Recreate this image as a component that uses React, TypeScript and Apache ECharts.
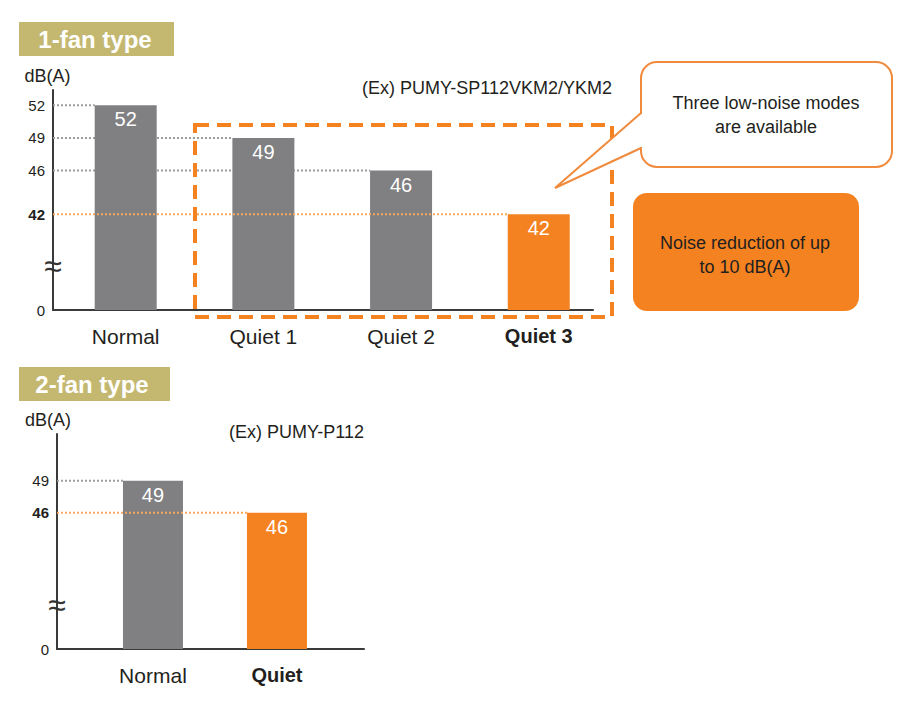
import React, { useEffect, useRef } from 'react';
import * as echarts from 'echarts';

// ---- data ----
const fan1Categories = ['Normal', 'Quiet 1', 'Quiet 2', 'Quiet 3'];
const fan1Values = [52, 49, 46, 42];
const fan1HighlightIndex = 3;
const fan1TickValues = [42, 46, 49, 52];

const fan2Categories = ['Normal', 'Quiet'];
const fan2Values = [49, 46];
const fan2HighlightIndex = 1;
const fan2TickValues = [46, 49];

// broken axis: bottom of the axis is labelled 0
const AXIS_MIN = 33.2;
const AXIS_MAX = 53.4;

const ORANGE = '#f58220';
const ORANGE_LIGHT = '#f9a75a';
const GRAY = '#808083';
const GRAY_LINE = '#9d9d9f';
const TEXT = '#231f20';
const OLIVE = '#c4b870';
const FONT = '"Liberation Sans", Arial, sans-serif';
const BAR_W = 62;

function buildChart(
  idx: number,
  cats: string[],
  vals: number[],
  hi: number,
  ticks: number[],
  xMin: number,
  xMax: number,
  barW: number,
  namePad: number
) {
  const barData = vals.map((v, i) => ({
    value: [i, v],
    itemStyle: { color: i === hi ? ORANGE : GRAY },
  }));
  const grayLines = vals.map((v, i) => [i, v]).filter((_, i) => i !== hi);
  const orangeLines = vals.map((v, i) => [i, v]).filter((_, i) => i === hi);
  const hiVal = vals[hi];
  const lineRender = (color: string) => (params: any, api: any) => {
    const p = api.coord([api.value(0), api.value(1)]);
    return {
      type: 'line',
      shape: { x1: params.coordSys.x, y1: p[1], x2: p[0] - barW / 2, y2: p[1] },
      style: { stroke: color, lineWidth: 2, lineDash: [2, 2] },
    };
  };
  const xAxis = {
    type: 'value',
    gridIndex: idx,
    min: xMin,
    max: xMax,
    splitLine: { show: false },
    axisTick: { show: false },
    axisLine: { show: true, onZero: false, lineStyle: { color: '#3a3a3a', width: 2 } },
    axisLabel: {
      customValues: cats.map((_, i) => i),
      margin: 16,
      fontSize: 21,
      color: TEXT,
      formatter: (v: number) => {
        const i = Math.round(v);
        return i === hi ? `{b|${cats[i]}}` : cats[i];
      },
      rich: { b: { fontSize: 20, fontWeight: 'bold', color: TEXT } },
    },
  };
  const yAxis = {
    type: 'value',
    gridIndex: idx,
    min: AXIS_MIN,
    max: AXIS_MAX,
    name: 'dB(A)',
    nameLocation: 'end',
    nameGap: 5,
    nameTextStyle: { fontSize: 18, color: TEXT, align: 'center', padding: [0, namePad, 0, 0] },
    splitLine: { show: false },
    axisTick: { show: false },
    axisLine: { show: true, onZero: false, lineStyle: { color: '#3a3a3a', width: 2 } },
    axisLabel: {
      customValues: [AXIS_MIN, ...ticks],
      margin: 8,
      fontSize: 15,
      color: TEXT,
      showMinLabel: true,
      formatter: (v: number) => {
        if (v < 40) return '0';
        const r = Math.round(v);
        return r === hiVal ? `{b|${r}}` : String(r);
      },
      rich: { b: { fontSize: 15, fontWeight: 'bold', color: TEXT } },
    },
  };
  const series = [
    {
      type: 'custom',
      xAxisIndex: idx,
      yAxisIndex: idx,
      z: 1,
      silent: true,
      renderItem: lineRender(GRAY_LINE),
      data: grayLines,
    },
    {
      type: 'bar',
      xAxisIndex: idx,
      yAxisIndex: idx,
      z: 2,
      barWidth: barW,
      data: barData,
      label: {
        show: true,
        position: 'insideTop',
        distance: 4,
        fontSize: 20,
        color: '#ffffff',
        formatter: (p: any) => String(p.value[1]),
      },
    },
    {
      type: 'custom',
      xAxisIndex: idx,
      yAxisIndex: idx,
      z: 3,
      silent: true,
      renderItem: lineRender(ORANGE_LIGHT),
      data: orangeLines,
    },
  ];
  return { xAxis, yAxis, series };
}

export default function App() {
  const ref = useRef<HTMLDivElement>(null);
  useEffect(() => {
    if (!ref.current) return;
    const chart = echarts.init(ref.current, null, { renderer: 'svg' });
    const c1 = buildChart(0, fan1Categories, fan1Values, fan1HighlightIndex, fan1TickValues, -0.528, 3.394, BAR_W, 11);
    const c2 = buildChart(1, fan2Categories, fan2Values, fan2HighlightIndex, fan2TickValues, -0.774, 1.702, 60, 18);
    const txt = (x: number, y: number, text: string, extra: any = {}) => ({
      type: 'text',
      x,
      y,
      z: 20,
      style: {
        text,
        fill: TEXT,
        fontSize: 18,
        fontFamily: FONT,
        align: 'center',
        verticalAlign: 'middle',
        ...extra,
      },
    });
    chart.setOption({
      animation: false,
      textStyle: { fontFamily: FONT },
      grid: [
        { left: 53, top: 90, width: 540, height: 220 },
        { left: 57, top: 434, width: 307, height: 215 },
      ],
      xAxis: [c1.xAxis, c2.xAxis],
      yAxis: [c1.yAxis, c2.yAxis],
      series: [...c1.series, ...c2.series],
      graphic: [
        { type: 'rect', z: 20, shape: { x: 19, y: 22, width: 155, height: 34 }, style: { fill: OLIVE } },
        txt(95, 39.5, '1-fan type', { fill: '#ffffff', fontSize: 24, fontWeight: 'bold' }),
        { type: 'rect', z: 20, shape: { x: 19, y: 367, width: 151, height: 34 }, style: { fill: OLIVE } },
        txt(92, 384.5, '2-fan type', { fill: '#ffffff', fontSize: 24, fontWeight: 'bold' }),
        txt(612, 88, '(Ex) PUMY-SP112VKM2/YKM2', { align: 'right' }),
        txt(364, 432, '(Ex) PUMY-P112', { align: 'right' }),
        {
          type: 'rect',
          z: 20,
          shape: { x: 195, y: 125, width: 417, height: 192 },
          style: { fill: 'none', stroke: ORANGE, lineWidth: 4, lineDash: [14, 8] },
        },
        {
          type: 'rect',
          z: 20,
          shape: { x: 641, y: 62, width: 251, height: 105, r: 16 },
          style: { fill: '#ffffff', stroke: '#f08a3c', lineWidth: 2 },
        },
        {
          type: 'polygon',
          z: 21,
          shape: { points: [[555, 188], [640, 114], [645, 114], [645, 147], [640, 147]] },
          style: { fill: '#ffffff' },
        },
        {
          type: 'polyline',
          z: 22,
          shape: { points: [[641, 113], [555, 188], [641, 148]] },
          style: { fill: 'none', stroke: '#f08a3c', lineWidth: 2 },
        },
        txt(766, 115, 'Three low-noise modes\nare available', { lineHeight: 24 }),
        {
          type: 'rect',
          z: 20,
          shape: { x: 633, y: 193, width: 226, height: 118, r: 14 },
          style: { fill: ORANGE },
        },
        txt(745, 255, 'Noise reduction of up\nto 10 dB(A)', { lineHeight: 24 }),
        txt(53, 266, '≈', { fontSize: 32, fill: '#333333' }),
        txt(57, 605, '≈', { fontSize: 32, fill: '#333333' }),
      ],
    });
    return () => chart.dispose();
  }, []);
  return (
    <div
      ref={ref}
      style={{ position: 'absolute', left: 0, top: 0, width: 911, height: 708, background: '#ffffff' }}
    />
  );
}
